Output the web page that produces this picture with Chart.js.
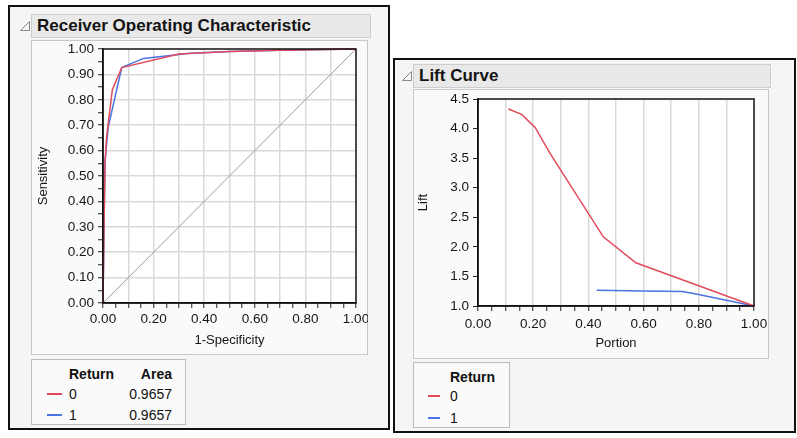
<!DOCTYPE html>
<html><head><meta charset="utf-8">
<script src="https://cdn.jsdelivr.net/npm/chart.js@4.4.1/dist/chart.umd.min.js"></script>
<style>
html,body{margin:0;padding:0;background:#fff;width:797px;height:438px;overflow:hidden;font-family:"Liberation Sans",Arial,sans-serif;color:#111}
.abs{position:absolute;box-sizing:border-box}
.panel{border:2px solid #111;background:#f5f5f5}
.titlebar{background:#e9e9e9;border:1px solid #cdcdcd;font-weight:bold;font-size:17px;line-height:22px;padding-left:5px;color:#141414;white-space:nowrap}
.frame{background:#fafafa;border:1px solid #c8c8c8}
.leg{background:#fafafa;border:1px solid #bdbdbd}
.t{position:absolute;font-size:14px;line-height:16px;white-space:nowrap;color:#111}
.b{font-weight:bold}
.sw{position:absolute;height:2px}
canvas{position:absolute}
</style></head>
<body>
<div class="abs panel" style="left:8px;top:5px;width:382px;height:425px"></div>
<div class="abs panel" style="left:393px;top:58px;width:403px;height:375px"></div>

<svg class="abs" style="left:19px;top:20px" width="12" height="12"><polygon points="10.5,1.5 10.5,10.5 1.5,10.5" fill="none" stroke="#8a8a8a" stroke-width="1"/></svg>
<div class="abs titlebar" style="left:31px;top:14px;width:340px;height:24px">Receiver Operating Characteristic</div>
<svg class="abs" style="left:401px;top:70px" width="12" height="12"><polygon points="10.5,1.5 10.5,10.5 1.5,10.5" fill="none" stroke="#8a8a8a" stroke-width="1"/></svg>
<div class="abs titlebar" style="left:413px;top:64px;width:358px;height:24px">Lift Curve</div>

<div class="abs frame" style="left:31px;top:40px;width:337px;height:315px"></div>
<div class="abs frame" style="left:413px;top:89px;width:356px;height:270px"></div>

<canvas id="roc" width="337" height="315" style="left:31px;top:40px;width:337px;height:315px"></canvas>
<canvas id="lift" width="356" height="270" style="left:413px;top:89px;width:356px;height:270px"></canvas>

<div class="abs leg" id="rocLeg" style="left:31px;top:359px;width:155px;height:66px"></div>
<div class="abs leg" id="liftLeg" style="left:413px;top:362px;width:97px;height:66px"></div>

<script>
// ---- data ----
const rocFpr0 = [0, 0.004, 0.008, 0.014, 0.021, 0.037, 0.074, 0.30, 0.50, 0.70, 1.00];
const rocTpr0 = [0, 0.30, 0.55, 0.65, 0.71, 0.84, 0.927, 0.980, 0.990, 0.995, 1.00];
const rocFpr1 = [0, 0.004, 0.008, 0.021, 0.074, 0.16, 0.344, 0.50, 0.70, 1.00];
const rocTpr1 = [0, 0.30, 0.56, 0.694, 0.927, 0.963, 0.983, 0.990, 0.995, 1.00];
const diagX = [0, 1];
const diagY = [0, 1];

const liftPortion0 = [0.110, 0.158, 0.207, 0.261, 0.454, 0.572, 1.00];
const liftValue0   = [4.33, 4.24, 4.02, 3.58, 2.17, 1.73, 1.00];
const liftPortion1 = [0.430, 0.600, 0.741, 0.795, 1.00];
const liftValue1   = [1.265, 1.255, 1.247, 1.200, 1.00];

const legendClasses = ['0', '1'];
const legendAreas = ['0.9657', '0.9657'];

const rocXTickLabels = ['0.00','0.20','0.40','0.60','0.80','1.00'];
const rocYTickLabels = ['0.00','0.10','0.20','0.30','0.40','0.50','0.60','0.70','0.80','0.90','1.00'];
const liftXTickLabels = ['0.00','0.20','0.40','0.60','0.80','1.00'];
const liftYTickLabels = ['1.0','1.5','2.0','2.5','3.0','3.5','4.0','4.5'];

const RED = '#e24a5c';
const BLUE = '#4a74e4';
const FONT = '"Liberation Sans", Arial, sans-serif';
const TXT = '#151515';

function pts(xs, ys){ return xs.map((x,i)=>({x:x, y:ys[i]})); }

const framePlugin = {
  id:'frame',
  beforeDraw(chart){
    const a = chart.chartArea, c = chart.ctx;
    c.save(); c.fillStyle = '#ffffff'; c.fillRect(a.left, a.top, a.right-a.left, a.bottom-a.top); c.restore();
  },
  afterDatasetsDraw(chart){
    const a = chart.chartArea, c = chart.ctx;
    c.save(); c.strokeStyle = '#111'; c.lineWidth = 1.5;
    c.strokeRect(a.left, a.top, a.right-a.left, a.bottom-a.top); c.restore();
  }
};

function grid10(ctx){
  const k = Math.round(ctx.tick.value*20);
  return (k%2===0 && k!==0 && k!==20) ? '#d9d9d9' : 'rgba(0,0,0,0)';
}
function labelFrom(list, digits){
  return function(v){ const s = Number(v).toFixed(digits); return list.includes(s) ? s : ''; };
}

function lineDs(data, color, w){
  return {data:data, borderColor:color, borderWidth:w, pointRadius:0, tension:0, fill:false, clip:3};
}

new Chart(document.getElementById('roc'), {
  type:'line',
  data:{datasets:[
    lineDs(pts(diagX, diagY), '#9c9c9c', 1),
    lineDs(pts(rocFpr0, rocTpr0), RED, 1.5),
    lineDs(pts(rocFpr1, rocTpr1), BLUE, 1.5)
  ]},
  options:{
    responsive:false, animation:false, devicePixelRatio:1,
    layout:{padding:{left:0, top:9, right:12, bottom:0}},
    plugins:{legend:{display:false}, tooltip:{enabled:false}},
    scales:{
      x:{type:'linear', min:0, max:1,
        ticks:{stepSize:0.05, autoSkip:false, maxRotation:0, padding:3, color:TXT, font:{family:FONT,size:13.5}, callback:labelFrom(rocXTickLabels,2)},
        grid:{color:grid10, lineWidth:1.5, drawTicks:true, tickLength:5, tickColor:'#222', tickWidth:1},
        border:{display:true, color:'#111', width:1.5},
        title:{display:true, text:'1-Specificity', color:TXT, font:{family:FONT,size:13}, padding:7},
        afterFit(s){ s.height = 52; s.paddingLeft = 0; s.paddingRight = 0; }
      },
      y:{type:'linear', min:0, max:1,
        ticks:{stepSize:0.05, autoSkip:false, padding:4, color:TXT, font:{family:FONT,size:13.5}, callback:labelFrom(rocYTickLabels,2)},
        grid:{color:grid10, lineWidth:1.5, drawTicks:true, tickLength:5, tickColor:'#222', tickWidth:1},
        border:{display:true, color:'#111', width:1.5},
        title:{display:true, text:'Sensitivity', color:TXT, font:{family:FONT,size:13}, padding:5},
        afterFit(s){ s.width = 72; s.paddingTop = 0; s.paddingBottom = 0; }
      }
    }
  },
  plugins:[framePlugin]
});

new Chart(document.getElementById('lift'), {
  type:'line',
  data:{datasets:[
    lineDs(pts(liftPortion0, liftValue0), RED, 1.5),
    lineDs(pts(liftPortion1, liftValue1), BLUE, 1.5)
  ]},
  options:{
    responsive:false, animation:false, devicePixelRatio:1,
    layout:{padding:{left:0, top:10, right:15, bottom:0}},
    plugins:{legend:{display:false}, tooltip:{enabled:false}},
    scales:{
      x:{type:'linear', min:0, max:1,
        ticks:{stepSize:0.05, autoSkip:false, maxRotation:0, padding:5, color:TXT, font:{family:FONT,size:13.5}, callback:labelFrom(liftXTickLabels,2)},
        grid:{color:grid10, lineWidth:1.5, drawTicks:true, tickLength:5, tickColor:'#222', tickWidth:1},
        border:{display:true, color:'#111', width:1.5},
        title:{display:true, text:'Portion', color:TXT, font:{family:FONT,size:13}, padding:8},
        afterFit(s){ s.height = 53; s.paddingLeft = 0; s.paddingRight = 0; }
      },
      y:{type:'linear', min:1, max:4.5,
        ticks:{stepSize:0.5, autoSkip:false, padding:4, color:TXT, font:{family:FONT,size:13.5}, callback:labelFrom(liftYTickLabels,1)},
        grid:{color:'rgba(0,0,0,0)', drawTicks:true, tickLength:5, tickColor:'#222', tickWidth:1},
        border:{display:true, color:'#111', width:1.5},
        title:{display:true, text:'Lift', color:TXT, font:{family:FONT,size:13}, padding:2.5},
        afterFit(s){ s.width = 65; s.paddingTop = 0; s.paddingBottom = 0; }
      }
    }
  },
  plugins:[framePlugin]
});

// ---- legends (HTML text) ----
const colors = [RED, BLUE];
function addText(parent, txt, x, yc, cls, right){
  const d = document.createElement('div');
  d.className = 't' + (cls ? ' ' + cls : '');
  d.textContent = txt;
  d.style.top = (yc - 8) + 'px';
  if (right) { d.style.right = (parent.clientWidth + 2 - x) + 'px'; } else { d.style.left = x + 'px'; }
  parent.appendChild(d);
}
function addSwatch(parent, color, x, w, yc){
  const s = document.createElement('div');
  s.className = 'sw'; s.style.background = color;
  s.style.left = x + 'px'; s.style.width = w + 'px'; s.style.top = (yc - 1) + 'px';
  parent.appendChild(s);
}
// ROC legend (coords relative to box at 31,359)
const rl = document.getElementById('rocLeg');
addText(rl, 'Return', 37, 14, 'b');
addText(rl, 'Area', 142, 14, 'b', true);
legendClasses.forEach((c,i)=>{
  const yc = 34 + i*21;
  addSwatch(rl, colors[i], 15, 15, yc);
  addText(rl, c, 37, yc);
  addText(rl, legendAreas[i], 142, yc, '', true);
});
// Lift legend (box at 413,362)
const ll = document.getElementById('liftLeg');
addText(ll, 'Return', 36, 14, 'b');
legendClasses.forEach((c,i)=>{
  const yc = 33 + i*21.5;
  addSwatch(ll, colors[i], 14, 12, yc);
  addText(ll, c, 36, yc);
});
</script>
</body></html>
